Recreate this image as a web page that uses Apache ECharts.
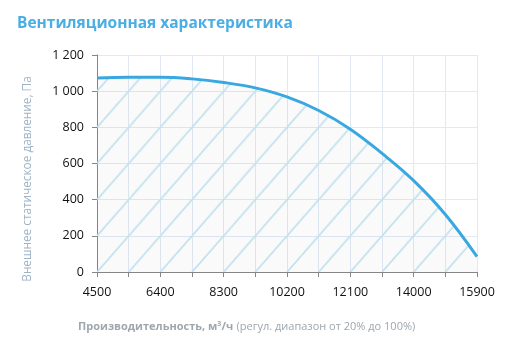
<!DOCTYPE html>
<html>
<head>
<meta charset="utf-8">
<script src="https://cdn.jsdelivr.net/npm/echarts@6/dist/echarts.min.js"></script>
<style>
  html, body { margin: 0; padding: 0; background: #fff; }
  #main { width: 516px; height: 354px; }
</style>
</head>
<body>
<div id="main"></div>
<script>
// расход, м3/ч
var flow = [4500, 5450, 6400, 7350, 8300, 9250, 10200, 11150, 12100, 13050, 14000, 14950, 15900];
// статическое давление, Па
var pressure = [1073, 1077, 1077, 1068, 1048, 1018, 968, 893, 790, 656, 505, 318, 85];
var xTicks = [4500, 6400, 8300, 10200, 12100, 14000, 15900];
var yTicks = [0, 200, 400, 600, 800, 1000, 1200];

var gLeft = 97, gTop = 55, gW = 380, gH = 217;

// штриховка: диагонали ячеек сетки
var tile = document.createElement('canvas');
tile.width = 32;
tile.height = 36;
var c = tile.getContext('2d');
c.fillStyle = 'rgba(0,0,0,0.018)';
c.fillRect(0, 0, 32, 36);
c.strokeStyle = '#bfe0ee';
c.lineWidth = 1.7;
[-32, 0, 32].forEach(function (dx) {
	c.beginPath();
	c.moveTo(dx, 36);
	c.lineTo(dx + 32, 0);
	c.stroke();
});

var data = [];
for (var i = 0; i < flow.length; i++) {
	data.push([flow[i], pressure[i]]);
}

var chart = echarts.init(document.getElementById('main'));
var font = '"Open Sans", "DejaVu Sans", sans-serif';

var option = {
	animation: false,
	title: {
		text: 'Вентиляционная характеристика',
		left: 12,
		top: 11,
		textStyle: { color: '#4aaee4', fontSize: 15.5, fontWeight: 'bold', fontFamily: font }
	},
	grid: { left: gLeft, top: gTop, width: gW, height: gH },
	xAxis: {
		type: 'value',
		min: flow[0],
		max: flow[flow.length - 1],
		interval: 950,
		axisLine: { show: true, lineStyle: { color: '#868686' } },
		axisTick: { show: true, length: 5, lineStyle: { color: '#868686' } },
		splitLine: { show: true, lineStyle: { color: '#e1eaf4' } },
		axisLabel: {
			color: '#111', fontSize: 12.5, fontFamily: font, margin: 14,
			showMinLabel: true, showMaxLabel: true,
			formatter: function (v) {
				return xTicks.indexOf(v) >= 0 ? String(v) : '';
			}
		}
	},
	yAxis: {
		type: 'value',
		min: yTicks[0],
		max: yTicks[yTicks.length - 1],
		interval: 200,
		axisLine: { show: true, lineStyle: { color: '#868686' } },
		axisTick: { show: true, length: 5, lineStyle: { color: '#868686' } },
		splitLine: { show: true, lineStyle: { color: '#e1eaf4' } },
		axisLabel: {
			color: '#111', fontSize: 12.5, fontFamily: font, margin: 13,
			formatter: function (v) {
				return String(v).replace(/\B(?=(\d{3})+(?!\d))/g, ' ');
			}
		}
	},
	graphic: [{
		type: 'text',
		x: 28,
		y: 179,
		rotation: Math.PI / 2,
		style: {
			text: 'Внешнее статическое давление, Па',
			fill: '#9fb3c6',
			fontSize: 11.8,
			fontFamily: font,
			align: 'center',
			verticalAlign: 'middle'
		}
	}, {
		type: 'text',
		left: 78,
		top: 321,
		style: {
			text: '{b|Производительность, м³/ч} {n|(регул. диапазон от 20% до 100%)}',
			rich: {
				b: { fontWeight: 'bold', fontSize: 11, fill: '#9ea6ae', fontFamily: font },
				n: { fontSize: 11, fill: '#9ea6ae', fontFamily: font }
			}
		}
	}],
	series: [{
		type: 'line',
		data: data,
		smooth: 0.4,
		showSymbol: false,
		lineStyle: { color: '#3aa8e0', width: 3 },
		areaStyle: {
			color: {
				image: tile,
				repeat: 'repeat',
				x: gLeft,
				y: gTop + gH,
				scaleX: gW / 12 / 32,
				scaleY: gH / 6 / 36
			},
			opacity: 1
		}
	}]
};

chart.setOption(option);
</script>
</body>
</html>
